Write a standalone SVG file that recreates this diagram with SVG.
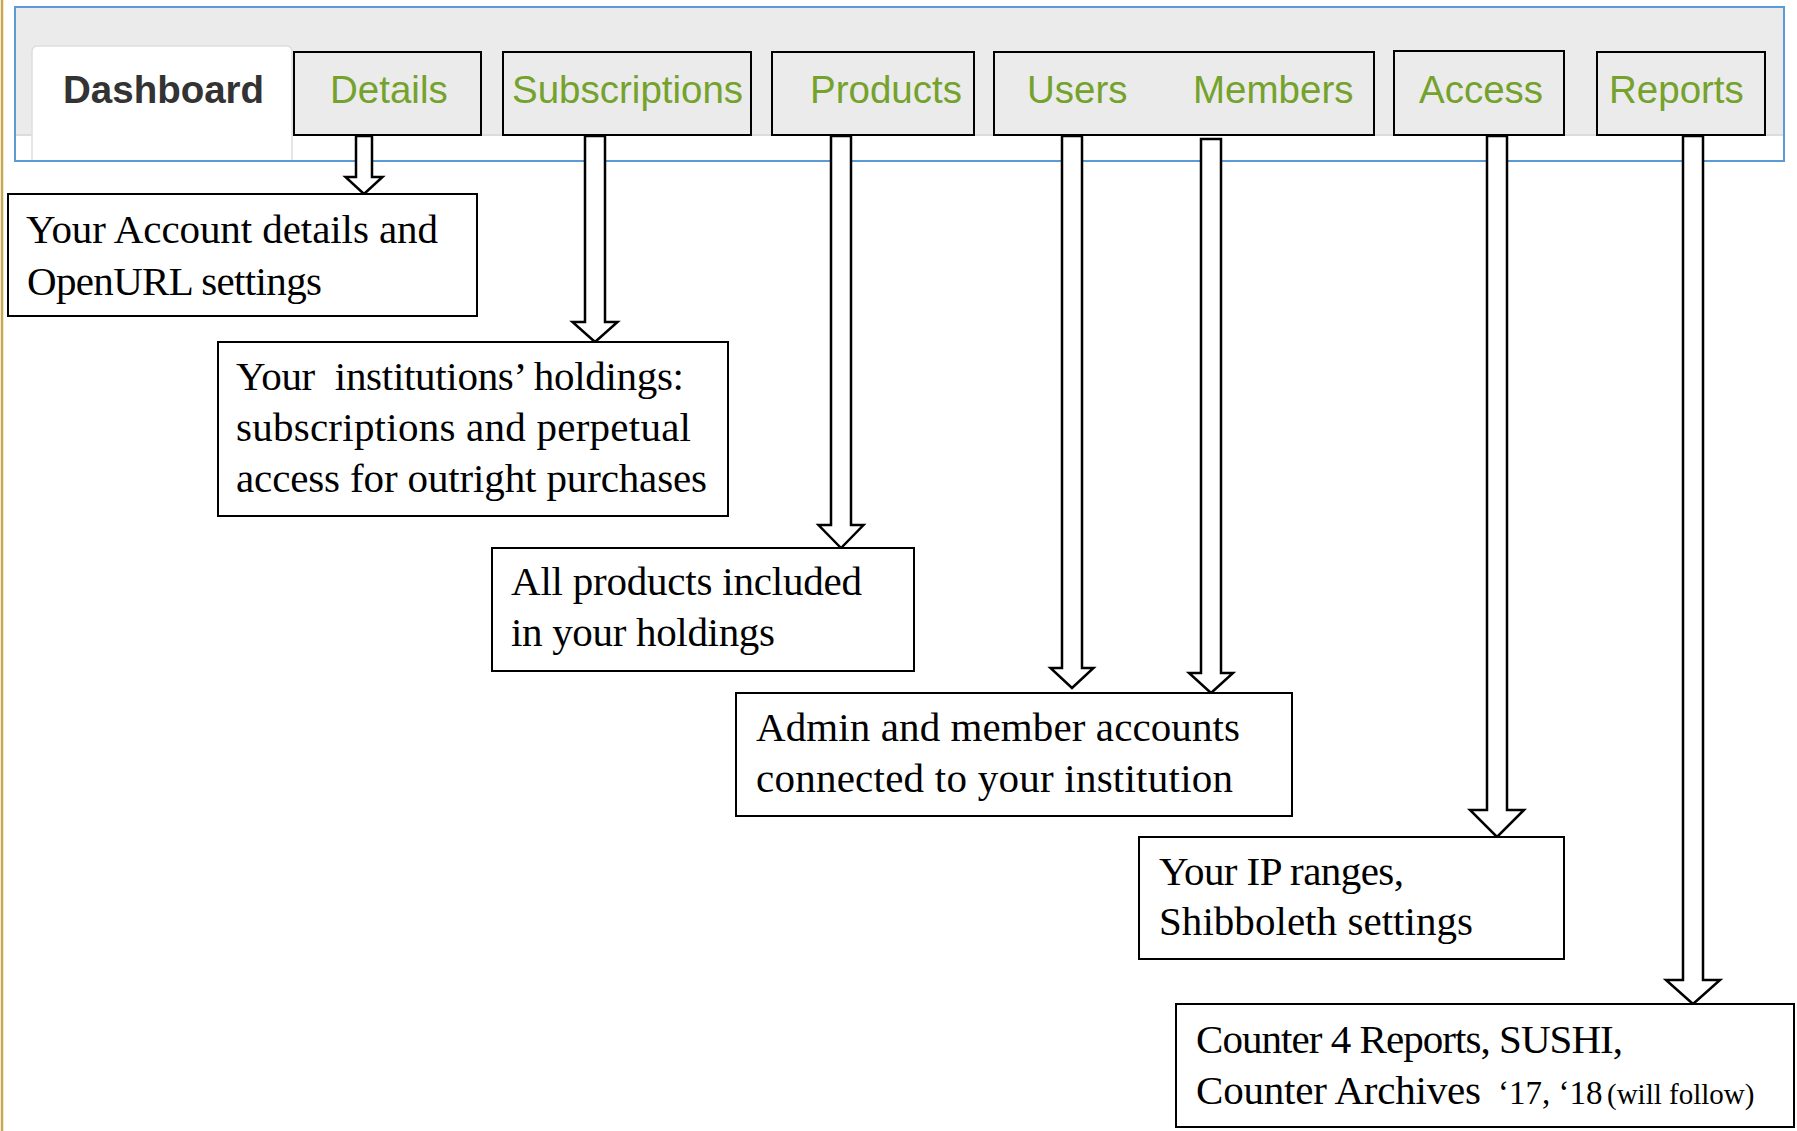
<svg xmlns="http://www.w3.org/2000/svg" width="1797" height="1131" viewBox="0 0 1797 1131">
<style>
.tab{fill:#ebebeb;stroke:#000;stroke-width:2}
.tabt{font-family:"Liberation Sans",Arial,sans-serif;font-size:38.5px;fill:#74a22c}
.box{fill:#fff;stroke:#000;stroke-width:2}
.bt{font-family:"Liberation Serif","Times New Roman",serif;font-size:41px;fill:#000}
.arr{fill:#fff;stroke:#000;stroke-width:2.5;stroke-linejoin:miter}
</style>
<rect x="0" y="0" width="1797" height="1131" fill="#fff"/>
<line x1="2" y1="0" x2="2" y2="1131" stroke="#c9a650" stroke-width="2.5"/>
<g id="panel">
<rect x="15" y="7" width="1769" height="154" fill="#fff"/>
<rect x="15" y="7" width="1769" height="128" fill="#ebebeb"/>
<line x1="15" y1="135" x2="1784" y2="135" stroke="#dcdcdc" stroke-width="2"/>
<path d="M32,161 V52 Q32,46 38,46 H286 Q292,46 292,52 V161 Z" fill="#fff" stroke="#dedede" stroke-width="1.5"/>
<rect x="15" y="7" width="1769" height="154" fill="none" stroke="#5b9bd5" stroke-width="2"/>
<text x="63" y="103" font-family="Liberation Sans,Arial,sans-serif" font-size="38.5" font-weight="bold" fill="#333">Dashboard</text>
</g>
<g id="tab-details"><rect class="tab" x="294" y="52" width="187" height="83"/><text class="tabt" x="330" y="103">Details</text></g>
<g id="tab-subscriptions"><rect class="tab" x="503" y="52" width="248" height="83"/><text class="tabt" x="512" y="103">Subscriptions</text></g>
<g id="tab-products"><rect class="tab" x="772" y="52" width="202" height="83"/><text class="tabt" x="810" y="103">Products</text></g>
<g id="tab-users-members"><rect class="tab" x="994" y="52" width="380" height="83"/><text class="tabt" x="1027" y="103">Users</text><text class="tabt" x="1193" y="103">Members</text></g>
<g id="tab-access"><rect class="tab" x="1394" y="51" width="170" height="84"/><text class="tabt" x="1419" y="103">Access</text></g>
<g id="tab-reports"><rect class="tab" x="1597" y="52" width="168" height="83"/><text class="tabt" x="1609" y="103">Reports</text></g>
<g id="connectors">
<polygon class="arr" points="356,136 372,136 372,177 382.5,177 364,194 345.5,177 356,177"/>
<polygon class="arr" points="585,136 605,136 605,322 617.5,322 595,342 572.5,322 585,322"/>
<polygon class="arr" points="831,136 851,136 851,525 863.5,525 841,548 818.5,525 831,525"/>
<polygon class="arr" points="1062,136 1082,136 1082,668 1093.5,668 1072,688 1050.5,668 1062,668"/>
<polygon class="arr" points="1201,139 1221,139 1221,673 1233,673 1211,693 1189,673 1201,673"/>
<polygon class="arr" points="1487,136 1507,136 1507,810 1524,810 1497,837 1470,810 1487,810"/>
<polygon class="arr" points="1683,136 1703,136 1703,980 1720,980 1693,1004 1666,980 1683,980"/>
</g>
<g id="box-details"><rect class="box" x="8" y="194" width="469" height="122"/>
<text class="bt" x="26" y="243" textLength="412">Your Account details and</text><text class="bt" x="27" y="295" textLength="295">OpenURL settings</text></g>
<g id="box-subscriptions"><rect class="box" x="218" y="342" width="510" height="174"/>
<text class="bt" x="236" y="390" xml:space="preserve" textLength="448">Your  institutions’ holdings:</text><text class="bt" x="236" y="441" textLength="455">subscriptions and perpetual</text><text class="bt" x="236" y="492" textLength="471">access for outright purchases</text></g>
<g id="box-products"><rect class="box" x="492" y="548" width="422" height="123"/>
<text class="bt" x="511" y="595" textLength="351">All products included</text><text class="bt" x="511" y="646" textLength="264">in your holdings</text></g>
<g id="box-users"><rect class="box" x="736" y="693" width="556" height="123"/>
<text class="bt" x="756" y="741" textLength="484">Admin and member accounts</text><text class="bt" x="756" y="792" textLength="477">connected to your institution</text></g>
<g id="box-access"><rect class="box" x="1139" y="837" width="425" height="122"/>
<text class="bt" x="1159" y="885" textLength="245">Your IP ranges,</text><text class="bt" x="1159" y="935" textLength="314">Shibboleth settings</text></g>
<g id="box-reports"><rect class="box" x="1176" y="1004" width="618" height="123"/>
<text class="bt" x="1196" y="1053" textLength="427">Counter 4 Reports, SUSHI,</text><text class="bt" x="1196" y="1104" textLength="285">Counter Archives</text><text class="bt" x="1498" y="1104"><tspan style="font-size:33px">‘17, ‘18</tspan><tspan x="1607" style="font-size:29px">(will follow)</tspan></text></g>
</svg>
